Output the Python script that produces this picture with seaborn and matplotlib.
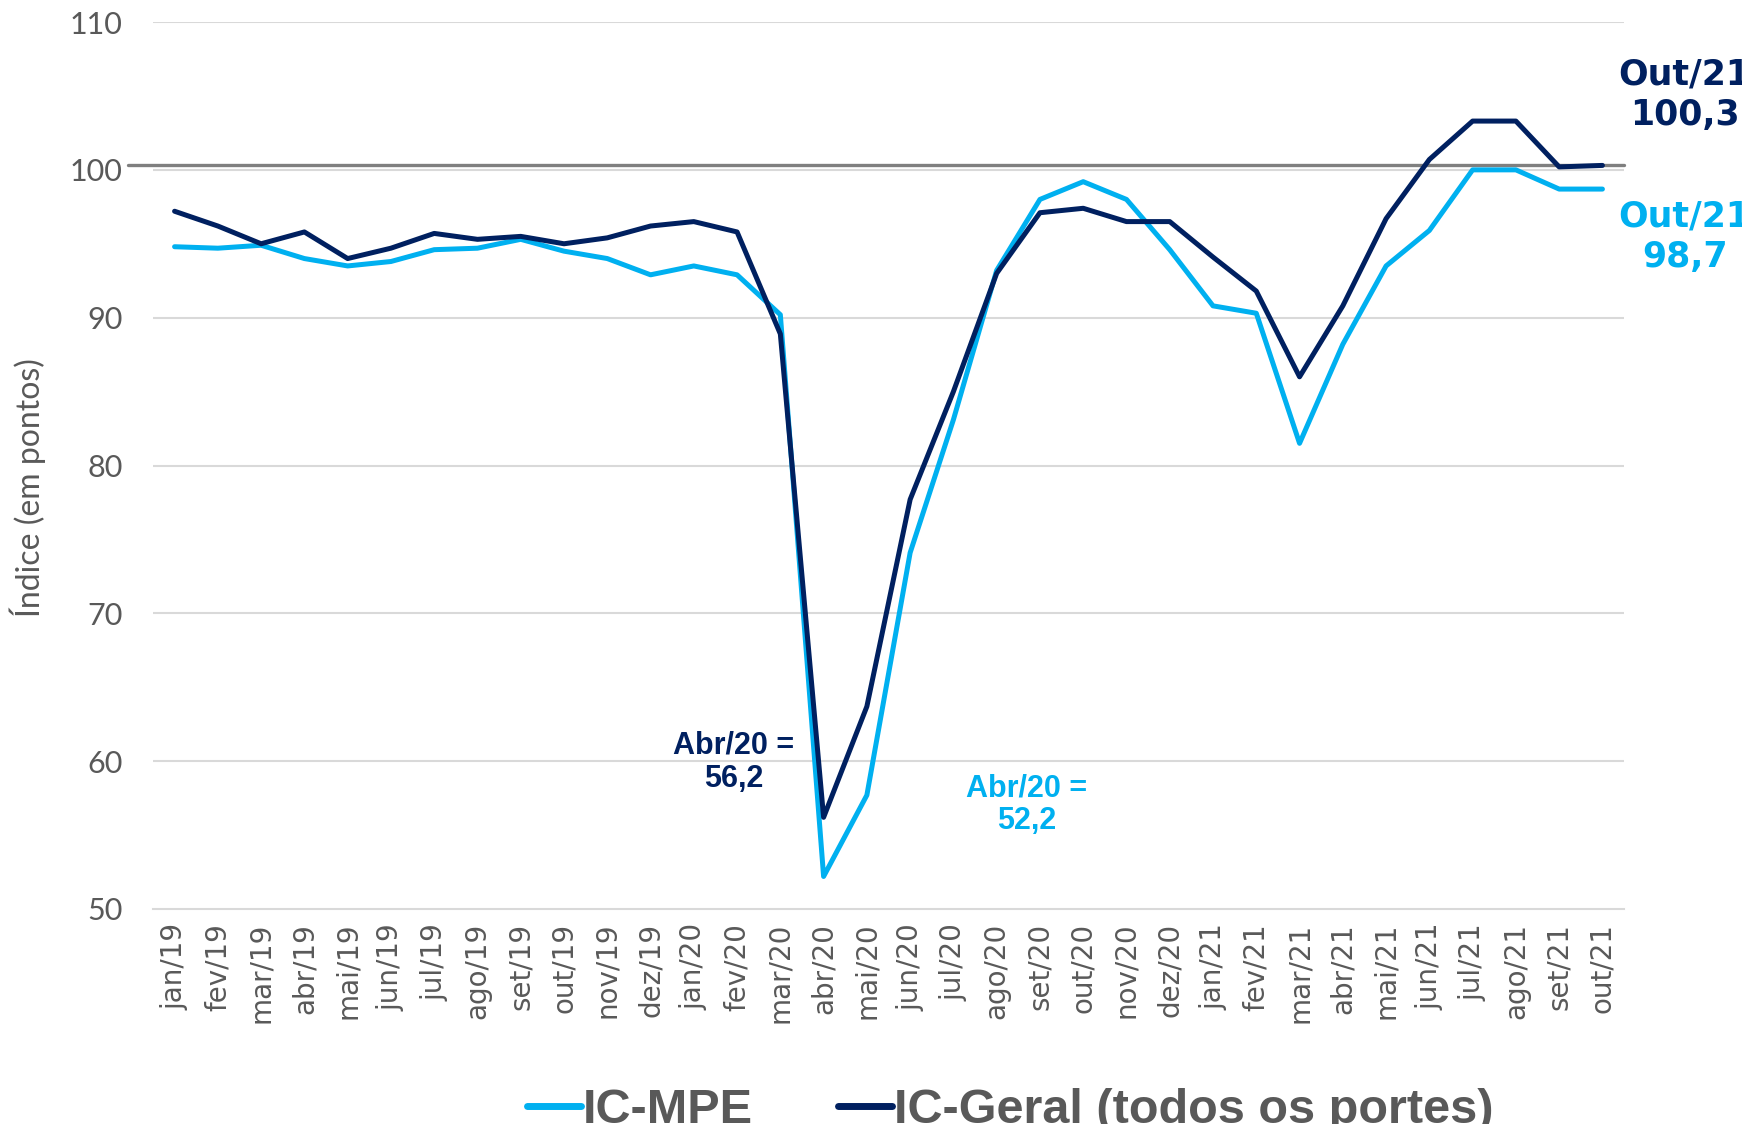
import numpy as np
import pandas as pd
import matplotlib
matplotlib.use("Agg")
import matplotlib.pyplot as plt
from matplotlib.lines import Line2D
import seaborn as sns

# Dados (índice em pontos)
meses = ["jan/19", "fev/19", "mar/19", "abr/19", "mai/19", "jun/19", "jul/19",
         "ago/19", "set/19", "out/19", "nov/19", "dez/19",
         "jan/20", "fev/20", "mar/20", "abr/20", "mai/20", "jun/20", "jul/20",
         "ago/20", "set/20", "out/20", "nov/20", "dez/20",
         "jan/21", "fev/21", "mar/21", "abr/21", "mai/21", "jun/21", "jul/21",
         "ago/21", "set/21", "out/21"]

ic_mpe = [94.8, 94.7, 94.9, 94.0, 93.5, 93.8, 94.6, 94.7, 95.3, 94.5, 94.0, 92.9,
          93.5, 92.9, 90.2, 52.2, 57.7, 74.1, 83.1, 93.2, 98.0, 99.2, 98.0, 94.6,
          90.8, 90.3, 81.5, 88.2, 93.5, 95.9, 100.0, 100.0, 98.7, 98.7]

ic_geral = [97.2, 96.2, 95.0, 95.8, 94.0, 94.7, 95.7, 95.3, 95.5, 95.0, 95.4, 96.2,
            96.5, 95.8, 88.9, 56.2, 63.7, 77.7, 85.0, 93.0, 97.1, 97.4, 96.5, 96.5,
            94.1, 91.8, 86.0, 90.8, 96.7, 100.7, 103.3, 103.3, 100.2, 100.3]

series_names = ["IC-MPE", "IC-Geral (todos os portes)"]
y_ticks = [50, 60, 70, 80, 90, 100, 110]

COR_MPE = "#00B0F0"
COR_GERAL = "#002060"
CINZA = "#595959"

df = pd.DataFrame({
    "idx": list(range(len(meses))) * 2,
    "valor": ic_mpe + ic_geral,
    "serie": [series_names[0]] * len(meses) + [series_names[1]] * len(meses),
})

sns.set_style("white")
plt.rcParams["font.family"] = ["DejaVu Sans"]

fig = plt.figure(figsize=(17.42, 11.24), dpi=100)
ax = fig.add_axes([0.0878, 0.1913, 0.8445, 0.7891])

# grade
for yt in y_ticks[1:]:
    ax.axhline(yt, color="#D9D9D9", lw=1.5, zorder=0)

# linha de referência em 100
ax.axhline(100.3, xmin=-0.017, xmax=1.0, color="#7F7F7F", lw=2.4,
           clip_on=False, zorder=1)

sns.lineplot(data=df, x="idx", y="valor", hue="serie",
             palette={series_names[0]: COR_MPE, series_names[1]: COR_GERAL},
             lw=3.6, ax=ax, legend=False, zorder=3)

ax.set_xlim(-0.5, len(meses) - 0.5)
ax.set_ylim(50, 110)
ax.set_yticks(y_ticks)
ax.set_yticklabels([str(v) for v in y_ticks], fontsize=22, color=CINZA,
                   family=["Lato", "DejaVu Sans"])
ax.set_xticks(range(len(meses)))
ax.set_xticklabels(meses, rotation=90, fontsize=20, color=CINZA)
ax.set_xticks(np.arange(-0.5, len(meses), 1.0), minor=True)
ax.tick_params(axis="x", which="major", length=0, pad=10)
ax.tick_params(axis="x", which="minor", length=9, width=1.5, color="#D9D9D9")
ax.tick_params(axis="y", length=0, pad=22)

for s in ["left", "right", "top"]:
    ax.spines[s].set_visible(False)
ax.spines["bottom"].set_color("#D9D9D9")
ax.spines["bottom"].set_linewidth(1.5)

ax.set_xlabel("")
ax.set_ylabel("Índice (em pontos)", fontsize=23, color=CINZA,
              family=["Lato", "DejaVu Sans"])
ax.yaxis.set_label_coords(-0.073, 0.475)

# anotações
bold = dict(fontweight="bold", ha="center", va="center", linespacing=1.15,
            family=["Liberation Sans", "DejaVu Sans"])
ax.text(12.93, 59.9, "Abr/20 =\n56,2", color=COR_GERAL, fontsize=22, **bold)
ax.text(19.7, 57.05, "Abr/20 =\n52,2", color=COR_MPE, fontsize=22, **bold)
ax.text(34.9, 105.1, "Out/21\n100,3", color=COR_GERAL, fontsize=25,
        fontweight="bold", ha="center", va="center", linespacing=1.25, clip_on=False)
ax.text(34.9, 95.5, "Out/21\n98,7", color=COR_MPE, fontsize=25,
        fontweight="bold", ha="center", va="center", linespacing=1.25, clip_on=False)

# legenda
handles = [Line2D([0], [0], color=COR_MPE, lw=5, solid_capstyle="round"),
           Line2D([0], [0], color=COR_GERAL, lw=5, solid_capstyle="round")]
leg = fig.legend(handles, series_names, loc="center", bbox_to_anchor=(0.580, 0.012),
                 ncol=2, frameon=False, handlelength=1.1, handletextpad=0.05,
                 columnspacing=1.75,
                 prop={"family": ["Liberation Sans", "DejaVu Sans"],
                       "weight": "bold", "size": 35})
for t in leg.get_texts():
    t.set_color(CINZA)

fig.savefig("out.png", dpi=100)
